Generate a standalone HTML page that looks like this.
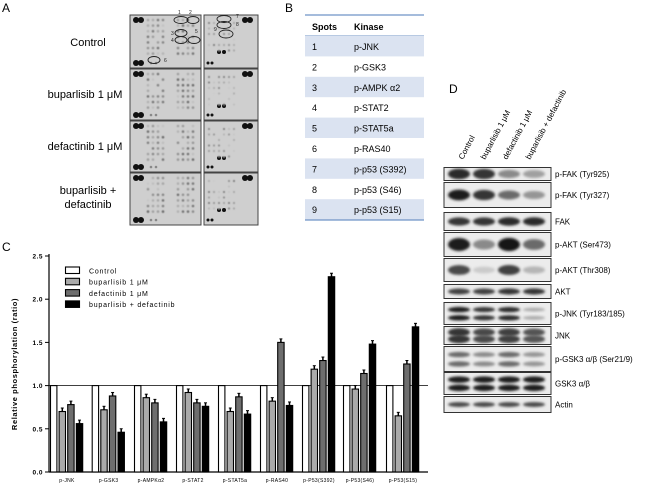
<!DOCTYPE html>
<html><head><meta charset="utf-8"><style>
html,body{margin:0;padding:0;background:#fff;}
svg{display:block;font-family:"Liberation Sans",sans-serif;}
</style></head><body>
<svg id="s" width="650" height="488" viewBox="0 0 650 488" xmlns="http://www.w3.org/2000/svg">
<defs>
<filter id="bl" x="-50%" y="-50%" width="200%" height="200%"><feGaussianBlur stdDeviation="1.2"/></filter>
<filter id="bl2" x="-50%" y="-50%" width="200%" height="200%"><feGaussianBlur stdDeviation="0.4"/></filter>
</defs>
<text x="2" y="12" font-size="12">A</text>
<text x="88" y="46" font-size="11" text-anchor="middle">Control</text>
<text x="85" y="98" font-size="11" text-anchor="middle">buparlisib 1 μM</text>
<text x="85" y="150" font-size="11" text-anchor="middle">defactinib 1 μM</text>
<text x="88" y="194" font-size="11" text-anchor="middle">buparlisib +</text>
<text x="88" y="208" font-size="11" text-anchor="middle">defactinib</text>
<g id="dots"></g>
<g fill="none" stroke="#222" stroke-width="0.9">
<ellipse cx="181" cy="20" rx="7" ry="3.5"/><ellipse cx="193" cy="20" rx="6" ry="3.5"/>
<ellipse cx="181" cy="33" rx="6" ry="3.5"/><ellipse cx="181" cy="40" rx="6" ry="3.5"/><ellipse cx="194" cy="40" rx="6" ry="3.5"/>
<ellipse cx="154" cy="60" rx="6" ry="3.5"/>
<ellipse cx="224" cy="19" rx="7" ry="3.5"/><ellipse cx="224" cy="25" rx="7" ry="3.5"/><ellipse cx="226" cy="34" rx="7" ry="4"/>
</g>
<g font-size="5" fill="#222">
<text x="178" y="14">1</text><text x="189" y="14">2</text><text x="171" y="35">3</text><text x="171" y="42">4</text><text x="195" y="33">5</text><text x="164" y="62">6</text>
<text x="236" y="18">7</text><text x="236" y="26">8</text><text x="214" y="31">9</text>
</g>
<text x="285" y="12" font-size="12">B</text>
<line x1="305" y1="15" x2="424" y2="15" stroke="#6f93c6" stroke-width="1.2"/>
<text x="312" y="30" font-size="9" font-weight="bold">Spots</text>
<text x="354" y="30" font-size="9" font-weight="bold">Kinase</text>
<line x1="305" y1="36" x2="424" y2="36" stroke="#6f93c6" stroke-width="1"/>
<g id="tbl"></g>
<line x1="305" y1="220" x2="424" y2="220" stroke="#6f93c6" stroke-width="1.2"/>
<text x="2" y="251" font-size="12">C</text>
<g id="chart"></g>
<text transform="translate(17,364) rotate(-90)" font-size="7.5" font-weight="bold" text-anchor="middle" letter-spacing="0.6">Relative phosphorylation (ratio)</text>
<text x="449" y="93" font-size="12">D</text>
<g font-size="8">
<text transform="translate(463,160) rotate(-62)">Control</text>
<text transform="translate(485,160) rotate(-62)">buparlisib 1 μM</text>
<text transform="translate(507,160) rotate(-62)">defactinib 1 μM</text>
<text transform="translate(530,160) rotate(-62)">buparlisib + defactinib</text>
</g>
<g id="blots"></g>
</svg>
<script>
const NS="http://www.w3.org/2000/svg";
function el(p,t,a,txt){const e=document.createElementNS(NS,t);for(const k in a)e.setAttribute(k,a[k]);if(txt!==undefined)e.textContent=txt;p.appendChild(e);return e;}
const D=document.getElementById('dots');
const rows=[[15,68],[69,120],[121,172],[173,225]];
let seed=7;function rnd(){seed=(seed*9301+49297)%233280;return seed/233280;}
rows.forEach((r,ri)=>{
 [[130,201],[204,258]].forEach((c,ci)=>{
  el(D,'rect',{x:c[0],y:r[0],width:c[1]-c[0],height:r[1]-r[0],fill:'#cfcfcf',stroke:'#444','stroke-width':1});
  if(ci==0){
   el(D,'circle',{cx:136,cy:r[0]+5,r:3,fill:'#111'});el(D,'circle',{cx:141,cy:r[0]+5,r:3,fill:'#111'});
   el(D,'circle',{cx:136,cy:r[1]-5,r:3,fill:'#111'});el(D,'circle',{cx:141,cy:r[1]-5,r:3,fill:'#111'});
   for(let i=0;i<8;i++)for(let j=0;j<8;j++){
     const x=j<4?148+j*5:178+(j-4)*5;
     const y=r[0]+5+i*5.6;
     if(y>r[1]-12)continue;
     const g=Math.floor(110+rnd()*110);
     if(g>200)continue;
     el(D,'circle',{cx:x,cy:y,r:1.3,fill:`rgb(${g},${g},${g})`,filter:'url(#bl2)'});
   }
   el(D,'circle',{cx:151,cy:r[1]-5,r:1.3,fill:'#888'});el(D,'circle',{cx:156,cy:r[1]-5,r:1.3,fill:'#888'});
  } else {
   el(D,'circle',{cx:245,cy:r[0]+5,r:3,fill:'#111'});el(D,'circle',{cx:250,cy:r[0]+5,r:3,fill:'#111'});
   el(D,'circle',{cx:219,cy:r[0]+37,r:2,fill:'#111'});el(D,'circle',{cx:224,cy:r[0]+37,r:2,fill:'#111'});
   el(D,'circle',{cx:208,cy:r[1]-5,r:1.5,fill:'#111'});el(D,'circle',{cx:212,cy:r[1]-5,r:1.5,fill:'#111'});
   for(let i=0;i<6;i++)for(let j=0;j<6;j++){
     const x=209+j*5,y=r[0]+8+i*5.5;const g=Math.floor(130+rnd()*110);
     if(g>205)continue;el(D,'circle',{cx:x,cy:y,r:1.1,fill:`rgb(${g},${g},${g})`,filter:'url(#bl2)'});
   }
  }
 });
});
const T=document.getElementById('tbl');
const kin=['p-JNK','p-GSK3','p-AMPK α2','p-STAT2','p-STAT5a','p-RAS40','p-p53 (S392)','p-p53 (S46)','p-p53 (S15)'];
kin.forEach((k,i)=>{const y=36+i*20.4;
 if(i%2==0)el(T,'rect',{x:305,y:y,width:119,height:20.4,fill:'#dbe3f1'});
 el(T,'text',{x:312,y:y+14,'font-size':9},String(i+1));
 el(T,'text',{x:354,y:y+14,'font-size':9},k);
});
const C=document.getElementById('chart');
const y0=472,u=86.4;
el(C,'line',{x1:49,y1:254,x2:49,y2:472,stroke:'#000','stroke-width':1.2});
el(C,'line',{x1:49,y1:472,x2:428,y2:472,stroke:'#000','stroke-width':1.2});
[0,0.5,1,1.5,2,2.5].forEach(v=>{const y=y0-v*u;
 el(C,'line',{x1:45,y1:y,x2:49,y2:y,stroke:'#000','stroke-width':1});
 el(C,'text',{x:43,y:y+2.5,'font-size':6.5,'font-weight':'bold','text-anchor':'end','letter-spacing':0.5},v.toFixed(1));});
el(C,'line',{x1:49,y1:y0-u,x2:428,y2:y0-u,stroke:'#000','stroke-width':0.8});
const vals=[[1,.70,.78,.56],[1,.72,.88,.46],[1,.86,.80,.58],[1,.92,.80,.76],[1,.70,.87,.67],[1,.82,1.50,.77],[1,1.19,1.29,2.26],[1,.96,1.14,1.48],[1,.65,1.25,1.68]];
const cols=['#fff','#aaa','#6e6e6e','#000'];
const gx=[50,91.7,134,176,218,260,302,343,386];
vals.forEach((g,gi)=>{g.forEach((v,bi)=>{const x=gx[gi]+bi*8.6+0.5,h=v*u;
 if(bi>0)el(C,'line',{x1:x+3.2,y1:y0-h,x2:x+3.2,y2:y0-h-3.5,stroke:'#000','stroke-width':1.5});
 if(bi>0)el(C,'line',{x1:x+1.7,y1:y0-h-3.5,x2:x+4.7,y2:y0-h-3.5,stroke:'#000','stroke-width':1});
 el(C,'rect',{x:x,y:y0-h,width:6.4,height:h,fill:cols[bi],stroke:'#000','stroke-width':1.1});
});});
const xl=['p-JNK','p-GSK3','p-AMPKα2','p-STAT2','p-STAT5a','p-RAS40','p-P53(S392)','p-P53(S46)','p-P53(S15)'];
xl.forEach((t,i)=>el(C,'text',{x:gx[i]+17,y:482,'font-size':5,'text-anchor':'middle','letter-spacing':0.3},t));
const lg=['Control','buparlisib 1 μM','defactinib 1 μM','buparlisib + defactinib'];
lg.forEach((t,i)=>{const y=267+i*11.3;
 el(C,'rect',{x:65.5,y:y,width:14,height:6.5,fill:cols[i],stroke:'#000','stroke-width':1.1});
 el(C,'text',{x:89,y:y+6.3,'font-size':7,'letter-spacing':0.8},t);});
const B=document.getElementById('blots');
const bl=[
['p-FAK (Tyr925)',167,181,[0.9,0.85,0.45,0.35],5,1],
['p-FAK (Tyr327)',182,208,[0.95,0.85,0.6,0.4],5,1],
['FAK',212,231,[0.85,0.85,0.9,0.9],4,1],
['p-AKT (Ser473)',232,257,[0.95,0.45,1,0.6],6,1],
['p-AKT (Thr308)',258,282,[0.75,0.15,0.8,0.25],5,1],
['AKT',284,299,[0.8,0.8,0.85,0.85],3,1],
['p-JNK (Tyr183/185)',302,325,[0.95,0.85,0.9,0.3],2.5,2],
['JNK',326,345,[0.85,0.75,0.8,0.7],4,2],
['p-GSK3 α/β (Ser21/9)',346,372,[0.6,0.45,0.6,0.4],3,2],
['GSK3 α/β',372,395,[0.95,0.95,0.95,0.95],3,2],
['Actin',396,413,[0.75,0.75,0.75,0.75],2.5,1]];
const lanes=[459,484,509,534];
bl.forEach(b=>{const[t,a,z,ds,th,nb]=b;const h=z-a;
 el(B,'rect',{x:444,y:a+0.5,width:107,height:h-1,fill:'#ececec',stroke:'#333','stroke-width':1});
 ds.forEach((d,i)=>{for(let k=0;k<nb;k++){const cy=nb==1?a+h/2:a+h*(0.33+0.36*k);
   const g=Math.round(235-d*215);
   el(B,'ellipse',{cx:lanes[i],cy:cy,rx:11,ry:th*(0.6+d*0.5),fill:`rgb(${g},${g},${g})`,filter:'url(#bl)'});}});
 el(B,'text',{x:555,y:a+h/2+3,'font-size':8},t);
});
</script>
</body></html>
